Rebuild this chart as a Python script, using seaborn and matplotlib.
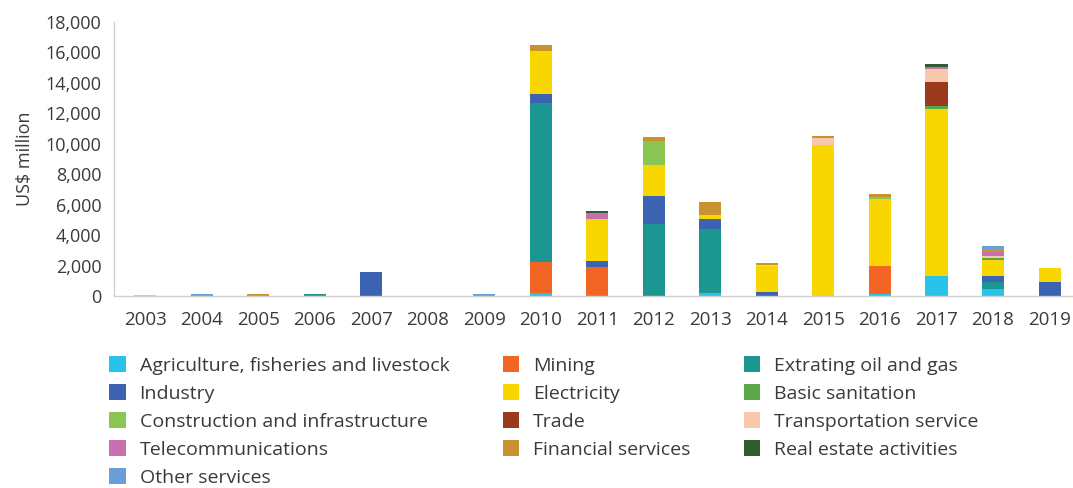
import matplotlib
matplotlib.use("Agg")
import matplotlib.pyplot as plt
from matplotlib.patches import Patch
import numpy as np
import pandas as pd
import seaborn as sns

# Years and sectors
years = list(range(2003, 2020))
sectors = [
    "Agriculture, fisheries and livestock", "Mining", "Extrating oil and gas",
    "Industry", "Electricity", "Basic sanitation",
    "Construction and infrastructure", "Trade", "Transportation service",
    "Telecommunications", "Financial services", "Real estate activities",
    "Other services",
]
colors = [
    "#29c3ea", "#f26524", "#1b9690",
    "#3b63b1", "#f8d700", "#5ba646",
    "#8cc652", "#993a1d", "#f8c8ad",
    "#c870ad", "#c8932f", "#2f5d2b",
    "#6a9fd5",
]

# US$ million per sector, 2003..2019
agriculture    = [0, 0, 0, 0, 0, 0, 0, 200, 0, 0, 220, 0, 0, 150, 1320, 450, 0]
mining         = [0, 0, 0, 0, 0, 0, 0, 2060, 1930, 0, 0, 0, 0, 1820, 0, 0, 0]
oil_gas        = [0, 0, 0, 150, 0, 0, 0, 10420, 0, 4740, 4170, 0, 0, 0, 0, 500, 0]
industry       = [0, 0, 0, 0, 1600, 0, 0, 610, 350, 1860, 700, 240, 0, 0, 0, 350, 920]
electricity    = [40, 0, 0, 0, 0, 0, 0, 2780, 2780, 2020, 220, 1700, 9930, 4410, 10960, 1080, 920]
sanitation     = [0, 0, 0, 0, 0, 0, 0, 0, 0, 0, 0, 0, 0, 0, 220, 120, 0]
construction   = [0, 0, 0, 0, 0, 0, 0, 0, 0, 1535, 0, 0, 0, 150, 0, 0, 0]
trade          = [0, 0, 0, 0, 0, 0, 0, 0, 0, 0, 0, 0, 0, 0, 1535, 0, 0]
transport      = [0, 0, 0, 0, 0, 0, 0, 0, 0, 0, 0, 120, 450, 0, 880, 100, 0]
telecom        = [0, 0, 0, 0, 0, 0, 0, 0, 370, 0, 0, 0, 0, 0, 130, 300, 0]
financial      = [0, 0, 120, 0, 0, 0, 0, 395, 0, 285, 880, 100, 150, 150, 0, 170, 0]
real_estate    = [0, 0, 0, 0, 0, 0, 0, 0, 175, 0, 0, 0, 0, 0, 200, 0, 0]
other_services = [0, 100, 0, 0, 0, 0, 100, 0, 0, 0, 0, 0, 0, 0, 0, 230, 0]

series = [agriculture, mining, oil_gas, industry, electricity, sanitation,
          construction, trade, transport, telecom, financial, real_estate,
          other_services]

rows = []
for name, vals in zip(sectors, series):
    for yr, v in zip(years, vals):
        rows.append({"Year": yr, "Sector": name, "Value": v})
df = pd.DataFrame(rows)
palette = dict(zip(sectors, colors))

sns.set_theme(style="white")
plt.rcParams["font.family"] = ["Open Sans", "DejaVu Sans"]
text_color = "#3a3a3a"

fig = plt.figure(figsize=(10.73, 4.88), dpi=100)
ax = fig.add_axes([0.1062, 0.3934, 0.8925, 0.5615])

# seaborn stacks the last hue level at the bottom, so pass the order reversed
sns.histplot(
    data=df, x="Year", weights="Value", hue="Sector",
    hue_order=sectors[::-1], palette=palette, multiple="stack",
    discrete=True, shrink=0.39, linewidth=0, alpha=1, legend=False, ax=ax,
)

ax.set_xlim(2003 - 0.55, 2019 + 0.39)
ax.set_ylim(0, 18000)
ax.set_xticks(years)
ax.set_xticklabels([str(y) for y in years])
ax.set_yticks(np.arange(0, 18001, 2000))
ax.set_yticklabels([f"{v:,}" for v in range(0, 18001, 2000)])
ax.tick_params(axis="both", length=0, colors=text_color)
ax.tick_params(axis="y", pad=9, labelsize=13)
ax.tick_params(axis="x", pad=11, labelsize=13.5)
ax.set_xlabel("")
ax.set_ylabel("US$ million", fontsize=13, color=text_color, labelpad=8)
for side in ["top", "right"]:
    ax.spines[side].set_visible(False)
for side in ["left", "bottom"]:
    ax.spines[side].set_color("#cfcfcf")
    ax.spines[side].set_linewidth(1.0)
ax.grid(False)

# Legend laid out row by row in three columns
ncol = 3
nrow = int(np.ceil(len(sectors) / ncol))
order = []
for c in range(ncol):
    for r in range(nrow):
        i = r * ncol + c
        if i < len(sectors):
            order.append(i)
handles = [Patch(facecolor=colors[i], edgecolor="none") for i in order]
labels = [sectors[i] for i in order]
fig.legend(
    handles, labels, ncol=ncol, loc="upper left",
    bbox_to_anchor=(0.102, 0.27), frameon=False, fontsize=14,
    handlelength=0.85, handleheight=0.85, handletextpad=0.7,
    labelspacing=0.49, columnspacing=2.75, borderpad=0, borderaxespad=0,
    labelcolor=text_color,
)

fig.savefig("out.png", dpi=100)
